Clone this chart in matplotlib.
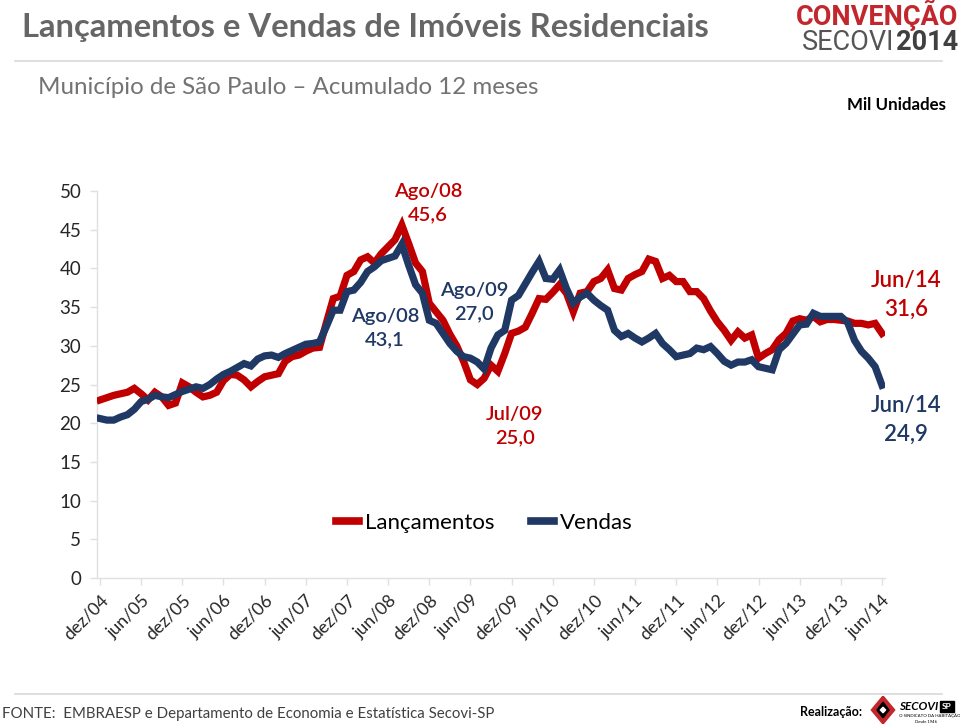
import matplotlib
matplotlib.use("Agg")
import matplotlib.pyplot as plt
import matplotlib.transforms as mtransforms
from matplotlib.patches import Polygon, Rectangle

# ---------------- data ----------------
tick_labels = ["dez/04", "jun/05", "dez/05", "jun/06", "dez/06", "jun/07", "dez/07",
               "jun/08", "dez/08", "jun/09", "dez/09", "jun/10", "dez/10", "jun/11",
               "dez/11", "jun/12", "dez/12", "jun/13", "dez/13", "jun/14"]

lancamentos = [
    23.0, 23.3, 23.6, 23.8, 24.0, 24.5, 23.8, 23.0, 24.0, 23.4, 22.3, 22.6,   # dez/04 - nov/05
    25.2, 24.7, 24.0, 23.4, 23.6, 24.0, 25.5, 26.3, 26.2, 25.6, 24.7, 25.4,   # dez/05 - nov/06
    26.0, 26.2, 26.4, 28.0, 28.6, 28.8, 29.3, 29.7, 29.8, 33.0, 36.1, 36.4,   # dez/06 - nov/07
    39.1, 39.6, 41.1, 41.5, 40.7, 41.9, 42.8, 43.7, 45.6, 43.2, 40.7, 39.6,   # dez/07 - nov/08
    35.5, 34.4, 33.3, 31.5, 30.0, 28.0, 25.6, 25.0, 25.8, 27.5, 26.7, 29.0,   # dez/08 - nov/09
    31.6, 31.9, 32.4, 34.2, 36.1, 36.0, 36.9, 37.9, 36.8, 34.4, 36.8, 37.0,   # dez/09 - nov/10
    38.3, 38.7, 39.8, 37.4, 37.2, 38.7, 39.2, 39.6, 41.2, 40.9, 38.7, 39.1,   # dez/10 - nov/11
    38.3, 38.3, 37.0, 37.0, 36.1, 34.5, 33.1, 32.0, 30.7, 31.8, 31.0, 31.4,   # dez/11 - nov/12
    28.4, 29.0, 29.5, 30.8, 31.6, 33.2, 33.5, 33.3, 33.8, 33.1, 33.4, 33.4,   # dez/12 - nov/13
    33.3, 33.2, 32.9, 32.9, 32.7, 32.9, 31.6                                  # dez/13 - jun/14
]

vendas = [
    20.6, 20.4, 20.4, 20.8, 21.1, 21.8, 22.8, 23.1, 23.6, 23.4, 23.3, 23.7,
    24.1, 24.4, 24.7, 24.5, 25.0, 25.7, 26.3, 26.7, 27.2, 27.7, 27.4, 28.3,
    28.7, 28.8, 28.5, 29.0, 29.4, 29.8, 30.2, 30.3, 30.5, 32.5, 34.6, 34.6,
    37.0, 37.2, 38.2, 39.6, 40.2, 41.0, 41.3, 41.6, 43.1, 40.4, 37.9, 36.8,
    33.3, 32.9, 31.6, 30.3, 29.3, 28.6, 28.4, 27.9, 27.0, 29.7, 31.4, 32.0,
    35.9, 36.5, 38.0, 39.5, 40.9, 38.7, 38.6, 39.8, 37.4, 35.5, 36.3, 36.8,
    35.9, 35.2, 34.6, 32.0, 31.2, 31.6, 31.0, 30.5, 31.0, 31.6, 30.3, 29.5,
    28.6, 28.8, 29.0, 29.7, 29.5, 29.9, 29.0, 28.0, 27.5, 27.9, 27.9, 28.2,
    27.3, 27.1, 26.9, 29.5, 30.3, 31.5, 32.7, 32.8, 34.2, 33.8, 33.8, 33.8,
    33.8, 33.0, 30.7, 29.3, 28.4, 27.3, 24.9
]

series_names = ["Lançamentos", "Vendas"]
y_ticks = [0, 5, 10, 15, 20, 25, 30, 35, 40, 45, 50]

# ---------------- style ----------------
RED = "#c00000"
BLUE = "#1f3864"
FONT = ["Lato", "DejaVu Sans"]
plt.rcParams["font.family"] = FONT

W, H = 960, 726
fig = plt.figure(figsize=(W / 100, H / 100), dpi=100)


def fx(x):
    return x / W


def fy(y):
    return 1 - y / H


n = len(lancamentos)
xs = list(range(n))

ax = fig.add_axes([fx(96.6), fy(578), (885.4 - 96.6) / W, (578 - 191) / H])
ax.plot(xs, lancamentos, color=RED, lw=5.2, solid_joinstyle="miter", zorder=3,
        label=series_names[0])
ax.plot(xs, vendas, color=BLUE, lw=5.2, solid_joinstyle="miter", zorder=4,
        label=series_names[1])

ax.set_xlim(-0.5, n - 0.5)
ax.set_ylim(0, 50)
ax.set_yticks(y_ticks)
ax.set_yticklabels([str(v) for v in y_ticks], fontsize=13.5, color="#262626")
ax.set_xticks(list(range(0, n, 6)))
ax.set_xticklabels(tick_labels, rotation=45, ha="right", va="top",
                   rotation_mode="anchor", fontsize=12.8, color="#262626")
offset = mtransforms.ScaledTranslation(4 / 100, 0, fig.dpi_scale_trans)
for lbl in ax.get_xticklabels():
    lbl.set_transform(lbl.get_transform() + offset)
for s in ["top", "right"]:
    ax.spines[s].set_visible(False)
for s in ["left", "bottom"]:
    ax.spines[s].set_color("#e0e0e0")
    ax.spines[s].set_linewidth(1.0)
ax.tick_params(axis="both", color="#e0e0e0", length=5, width=1.0)
ax.tick_params(axis="y", pad=6)
ax.tick_params(axis="x", pad=5)

leg = ax.legend(loc="upper left", bbox_to_anchor=((316 - 96.6) / 788.8, (578 - 493) / 387),
                ncol=2, frameon=False, fontsize=16, handlelength=1.05,
                columnspacing=1.65, handletextpad=0.25)
for line in leg.get_lines():
    line.set_linewidth(5.5)

# annotations
ann_kw = dict(ha="center", va="center", fontsize=14.5, linespacing=1.45, fontweight="semibold")
fig.text(fx(428), fy(203), "Ago/08\n45,6", color=RED, **ann_kw)
fig.text(fx(385), fy(328), "Ago/08\n43,1", color=BLUE, **ann_kw)
fig.text(fx(474), fy(302), "Ago/09\n27,0", color=BLUE, **ann_kw)
fig.text(fx(515), fy(426), "Jul/09\n25,0", color=RED, **ann_kw)
ann_kw2 = dict(ha="center", va="center", fontsize=16, linespacing=1.45, fontweight="semibold")
fig.text(fx(906), fy(295), "Jun/14\n31,6", color=RED, **ann_kw2)
fig.text(fx(906), fy(420), "Jun/14\n24,9", color=BLUE, **ann_kw2)

# header
fig.text(fx(22), fy(28), "Lançamentos e Vendas de Imóveis Residenciais", ha="left",
         va="center", fontsize=23.6, fontweight="bold", color="#666666")
fig.text(fx(38), fy(88), "Município de São Paulo – Acumulado 12 meses", ha="left",
         va="center", fontsize=17.4, color="#737373")
fig.text(fx(946), fy(105), "Mil Unidades", ha="right", va="center", fontsize=12.2,
         fontweight="bold", color="#000000")
fig.add_artist(plt.Line2D([fx(15), fx(942)], [fy(61), fy(61)], color="#d9d9d9", lw=1.2))
fig.add_artist(plt.Line2D([fx(15), fx(942)], [fy(694), fy(694)], color="#d9d9d9", lw=1.2))

# logo top right
fig.text(fx(958), fy(15), "CONVENÇÃO", ha="right", va="center", fontsize=19.5,
         fontweight="bold", color="#c1272d", family=["Roboto", "DejaVu Sans"])
fig.text(fx(894), fy(43), "SECOVI", ha="right", va="center", fontsize=19.5,
         color="#555555", family=["Roboto", "DejaVu Sans"])
fig.text(fx(958), fy(43), "2014", ha="right", va="center", fontsize=19.5,
         fontweight="bold", color="#404040", family=["Roboto", "DejaVu Sans"])

# footer
fig.text(fx(2), fy(714), "FONTE:  EMBRAESP e Departamento de Economia e Estatística Secovi-SP",
         ha="left", va="center", fontsize=10.8, color="#404040")
fig.text(fx(862), fy(712), "Realização:", ha="right", va="center", fontsize=9,
         fontweight="bold", color="#000000")

# small logo mark
logo_ax = fig.add_axes([fx(870), fy(724), 26 / W, 28 / H])
logo_ax.set_xlim(0, 1)
logo_ax.set_ylim(0, 1)
logo_ax.axis("off")
logo_ax.add_patch(Polygon([[0.5, 1.0], [0.05, 0.5], [0.5, 0.0], [0.95, 0.5]], closed=True,
                          color="#c1272d"))
logo_ax.add_patch(Polygon([[0.5, 0.78], [0.27, 0.5], [0.5, 0.22], [0.73, 0.5]], closed=True,
                          color="#000000"))
logo_ax.add_patch(Polygon([[0.5, 0.6], [0.4, 0.5], [0.5, 0.4], [0.6, 0.5]], closed=True,
                          color="white"))
fig.text(fx(899), fy(706), "SECOVI", ha="left", va="center", fontsize=8.5,
         fontweight="bold", style="italic", color="#000000")
fig.add_artist(Rectangle((fx(940), fy(712)), 14 / W, 11 / H, color="#000000"))
fig.text(fx(947), fy(706.5), "SP", ha="center", va="center", fontsize=6,
         fontweight="bold", color="white")
fig.text(fx(899), fy(716), "O SINDICATO DA HABITAÇÃO", ha="left", va="center",
         fontsize=3.2, color="#000000")
fig.text(fx(926), fy(722), "Desde 1946", ha="center", va="center", fontsize=3,
         color="#000000")

fig.savefig("out.png", dpi=100)
